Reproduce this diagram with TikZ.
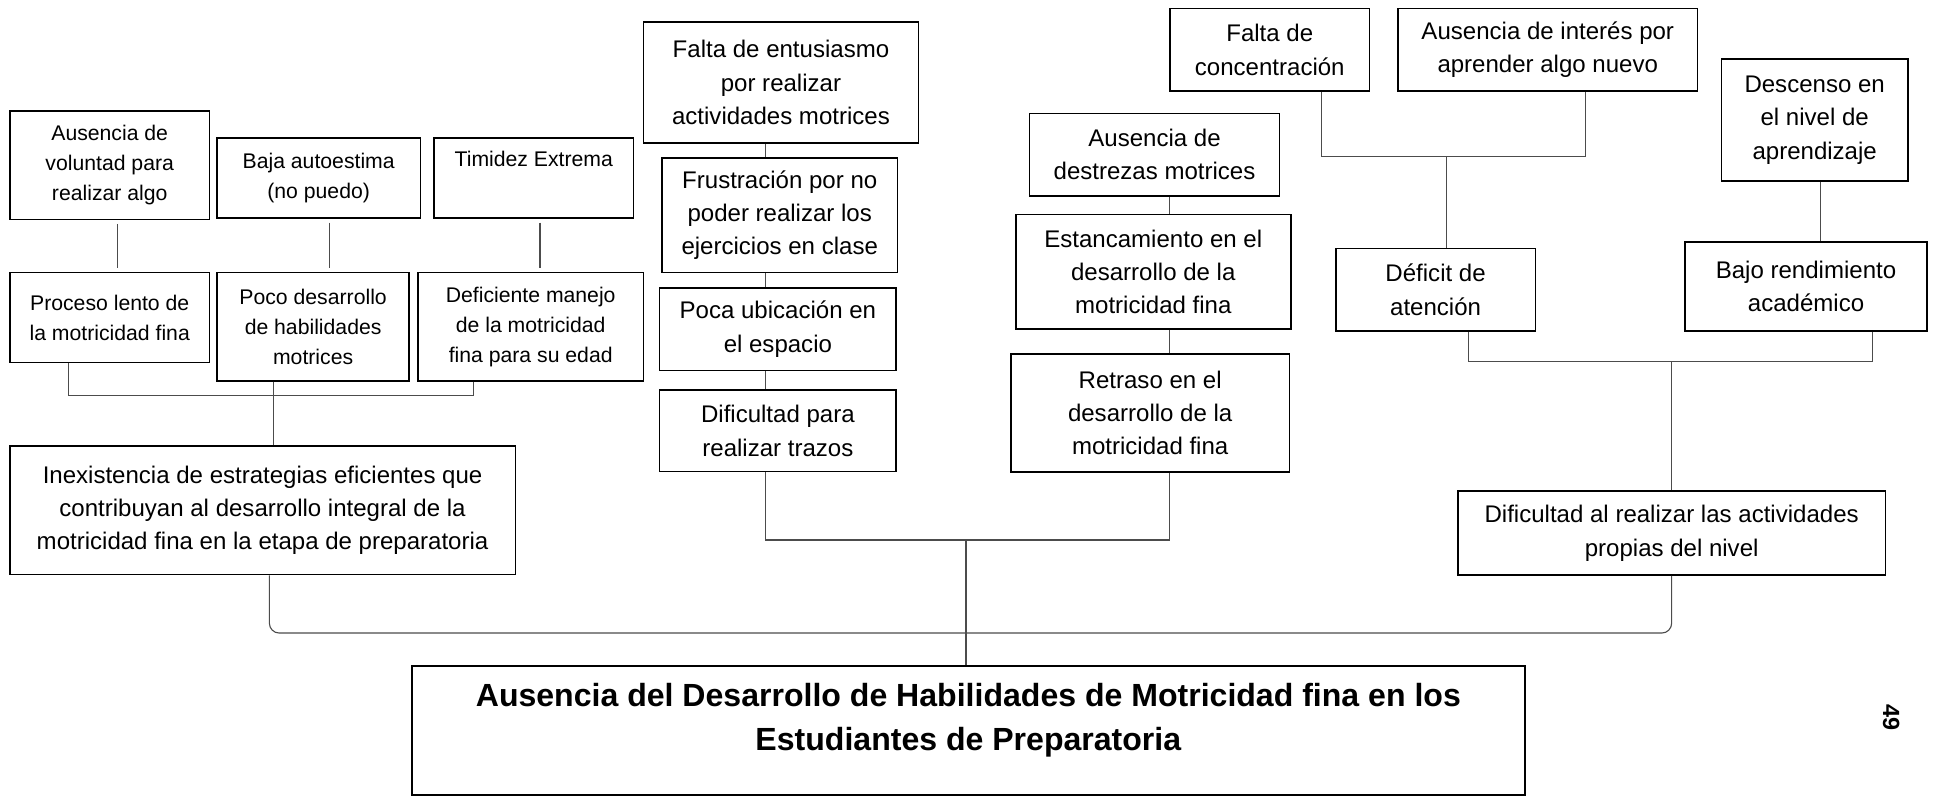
\documentclass[tikz,border=0pt]{standalone}
\usepackage{fontspec}
\setmainfont{Liberation Sans}
\usetikzlibrary{calc}
\tikzset{
  caja/.style={draw,line width=1.3pt,align=center,inner sep=0pt,
    font=\fontsize{19.5}{27}\selectfont},
  cajita/.style={caja,font=\fontsize{17.2}{24.3}\selectfont},
  linea/.style={draw=black!70,line width=0.9pt},
}
\begin{document}
\begin{tikzpicture}[x=1pt,y=-1pt]
  \useasboundingbox (0,0) rectangle (1568,646);
  \node[cajita,minimum width=162,minimum height=88] (volun) at (89,134) {Ausencia de\\voluntad para\\realizar algo};
  \node[cajita,minimum width=165,minimum height=65] (autoe) at (258.5,144.5) {Baja autoestima\\(no puedo)};
  \node[cajita,minimum width=162,minimum height=65] (timid) at (433,144.5) {Timidez Extrema\\\strut};
  \node[cajita,minimum width=162,minimum height=73] (proc) at (89,257.5) {Proceso lento de\\la motricidad fina};
  \node[cajita,minimum width=156,minimum height=88] (poco) at (254,265) {Poco desarrollo\\de habilidades\\motrices};
  \node[cajita,minimum width=183,minimum height=88] (defic) at (430.5,265) {Deficiente manejo\\de la motricidad\\fina para su edad};
  \node[caja,minimum width=410,minimum height=104] (estr) at (213,414) {Inexistencia de estrategias eficientes que\\contribuyan al desarrollo integral de la\\motricidad fina en la etapa de preparatoria};
  \node[caja,minimum width=223,minimum height=98] (entus) at (633.5,67) {Falta de entusiasmo\\por realizar\\actividades motrices};
  \node[caja,minimum width=191,minimum height=93] (frust) at (632.5,174.5) {Frustración por no\\poder realizar los\\ejercicios en clase};
  \node[caja,minimum width=192,minimum height=67] (ubic) at (631,267) {Poca ubicación en\\el espacio};
  \node[caja,minimum width=192,minimum height=66] (trazo) at (631,349.5) {Dificultad para\\realizar trazos};
  \node[caja,minimum width=203,minimum height=67] (destr) at (936.5,125.5) {Ausencia de\\destrezas motrices};
  \node[caja,minimum width=223,minimum height=93] (estan) at (935.5,220.5) {Estancamiento en el\\desarrollo de la\\motricidad fina};
  \node[caja,minimum width=226,minimum height=96] (retra) at (933,335) {Retraso en el\\desarrollo de la\\motricidad fina};
  \node[caja,minimum width=162,minimum height=67] (conce) at (1030,40.5) {Falta de\\concentración};
  \node[caja,minimum width=243,minimum height=67] (inter) at (1255.5,40.5) {Ausencia de interés por\\aprender algo nuevo};
  \node[caja,minimum width=162,minimum height=67] (defat) at (1164.5,235) {Déficit de\\atención};
  \node[caja,minimum width=151,minimum height=99] (desce) at (1472,97.5) {Descenso en\\el nivel de\\aprendizaje};
  \node[caja,minimum width=196,minimum height=72] (bajor) at (1465,232.5) {Bajo rendimiento\\académico};
  \node[caja,minimum width=347,minimum height=68] (dific) at (1356,432.5) {Dificultad al realizar las actividades\\propias del nivel};
  \node[draw,line width=1.3pt,minimum width=903,minimum height=105] (titulo) at (785.5,592.5) {};
  \node[font=\fontsize{26}{36}\bfseries\selectfont,align=center] (titutxt) at (785.5,584) {Ausencia del Desarrollo de Habilidades de Motricidad fina en los\\Estudiantes de Preparatoria};
  \node[font=\fontsize{19}{19}\bfseries\selectfont,rotate=-90] (pagina) at (1534,582) {49};
  \coordinate (c1) at (95.6,0);
  \coordinate (c2) at (267,0);
  \coordinate (c3) at (438,0);
  \coordinate (cl) at (222,321);
  \coordinate (mcol) at (621,438);
  \coordinate (ncol) at (949,438);
  \coordinate (cm) at (783.6,438);
  \coordinate (rc1) at (1072,127);
  \coordinate (rc2) at (1286,127);
  \coordinate (rst) at (1173,127);
  \coordinate (bc) at (1476.5,0);
  \coordinate (rb1) at (1191,293.5);
  \coordinate (rb2) at (1519,293.5);
  \coordinate (rbs) at (1356,293.5);
  \coordinate (base) at (783.6,513.5);
  \draw[linea,shorten <=3pt,shorten >=3pt] (volun.south -| c1) -- (proc.north -| c1);
  \draw[linea,shorten <=3pt,shorten >=3pt] (autoe.south -| c2) -- (poco.north -| c2);
  \draw[linea,shorten <=3pt,shorten >=3pt] (timid.south -| c3) -- (defic.north -| c3);
  \draw[linea] ([xshift=-33.6]proc.south) |- (cl) -| ([xshift=-46.5]defic.south);
  \draw[linea] (poco.south -| cl) -- (estr.north -| cl);
  \foreach \a/\b in {entus/frust,frust/ubic,ubic/trazo}
    \draw[linea] (\a.south -| mcol) -- (\b.north -| mcol);
  \foreach \a/\b in {destr/estan,estan/retra}
    \draw[linea] (\a.south -| ncol) -- (\b.north -| ncol);
  \draw[linea] (trazo.south -| mcol) -- (mcol) -- (ncol) -- (retra.south -| ncol);
  \draw[linea] (conce.south -| rc1) -- (rc1) -- (rc2) -- (inter.south -| rc2);
  \draw[linea] (rst) -- (defat.north -| rst);
  \draw[linea] (desce.south -| bc) -- (bajor.north -| bc);
  \draw[linea] (defat.south -| rb1) -- (rb1) -- (rb2) -- (bajor.south -| rb2);
  \draw[linea] (rbs) -- (dific.north -| rbs);
  \draw[linea,rounded corners=8] ([xshift=5.5]estr.south) |- (base) -| (dific.south);
  \draw[linea] (cm) -- (titulo.north -| cm);
\end{tikzpicture}
\end{document}
